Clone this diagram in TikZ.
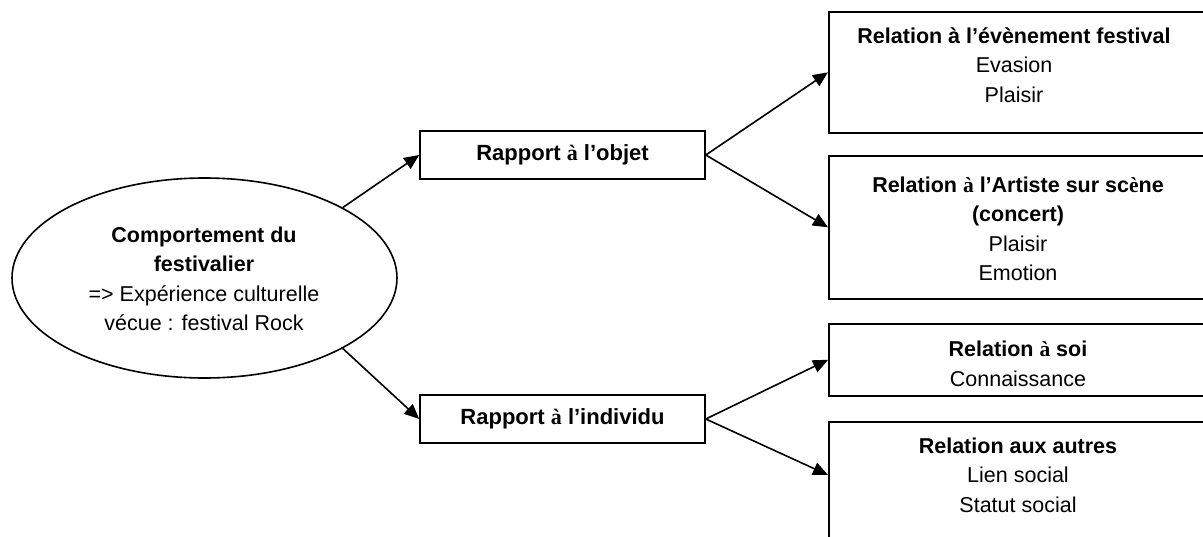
\documentclass[tikz,border=0pt]{standalone}
\usepackage{fontspec}
\setmainfont{Liberation Sans}
\newfontfamily\serifb{Liberation Serif}
\usetikzlibrary{arrows.meta,shapes.geometric}
\newcommand{\sa}{{\serifb\bfseries à}}
\newcommand{\se}{{\serifb\bfseries è}}
\tikzset{
  box/.style={draw=black, line width=1.6pt, rectangle, inner sep=0pt},
  txt/.style={align=center, font=\fontsize{21.5}{29.5}\selectfont, inner sep=0pt},
  arr/.style={draw=black, line width=1.6pt, -{Triangle[length=15pt,width=13pt]}},
}
\begin{document}
\begin{tikzpicture}[x=1pt,y=-1pt]
\useasboundingbox (0,0) rectangle (1203,536);
\clip (0,0) rectangle (1203,536);
% ellipse
\node[ellipse, draw=black, line width=1.6pt, minimum width=385pt, minimum height=200pt, inner sep=0pt] (root) at (204.5,278) {};
\node[txt] (roott) at (204,279) {\textbf{Comportement du}\\\textbf{festivalier}\\=> Expérience culturelle\\vécue : festival Rock};
% middle boxes
\node[box, minimum width=285pt, minimum height=48pt, font=\fontsize{22}{29.5}\selectfont\bfseries] (obj) at (562.5,155) {Rapport \sa{} l’objet};
\node[box, minimum width=285pt, minimum height=48pt, font=\fontsize{22}{29.5}\selectfont\bfseries] (ind) at (562.5,419) {Rapport \sa{} l’individu};
% right boxes
\node[box, anchor=north west, minimum width=380pt, minimum height=121pt] (r1) at (828,11) {};
\node[txt] at (1014,65) {\textbf{Relation à l’évènement festival}\\Evasion\\Plaisir};
\node[box, anchor=north west, minimum width=380pt, minimum height=143pt] (r2) at (828,155) {};
\node[txt] at (1018,229) {\textbf{Relation \sa{} l’Artiste sur sc\se ne}\\\textbf{(concert)}\\Plaisir\\Emotion};
\node[box, anchor=north west, minimum width=380pt, minimum height=72pt] (r3) at (828,323) {};
\node[txt] at (1018,364) {\textbf{Relation \sa{} soi}\\Connaissance};
\node[box, anchor=north west, minimum width=380pt, minimum height=200pt] (r4) at (828,421) {};
\coordinate (r4in) at (828,475);
\node[txt] at (1018,475) {\textbf{Relation aux autres}\\Lien social\\Statut social};
% connectors
\draw[arr] (root.27) -- (obj.west);
\draw[arr] (root.-27) -- (ind.west);
\draw[arr] (obj.east) -- (r1.west);
\draw[arr] (obj.east) -- (r2.west);
\draw[arr] (ind.east) -- (r3.west);
\draw[arr] (ind.east) -- (r4in);
\end{tikzpicture}
\end{document}
